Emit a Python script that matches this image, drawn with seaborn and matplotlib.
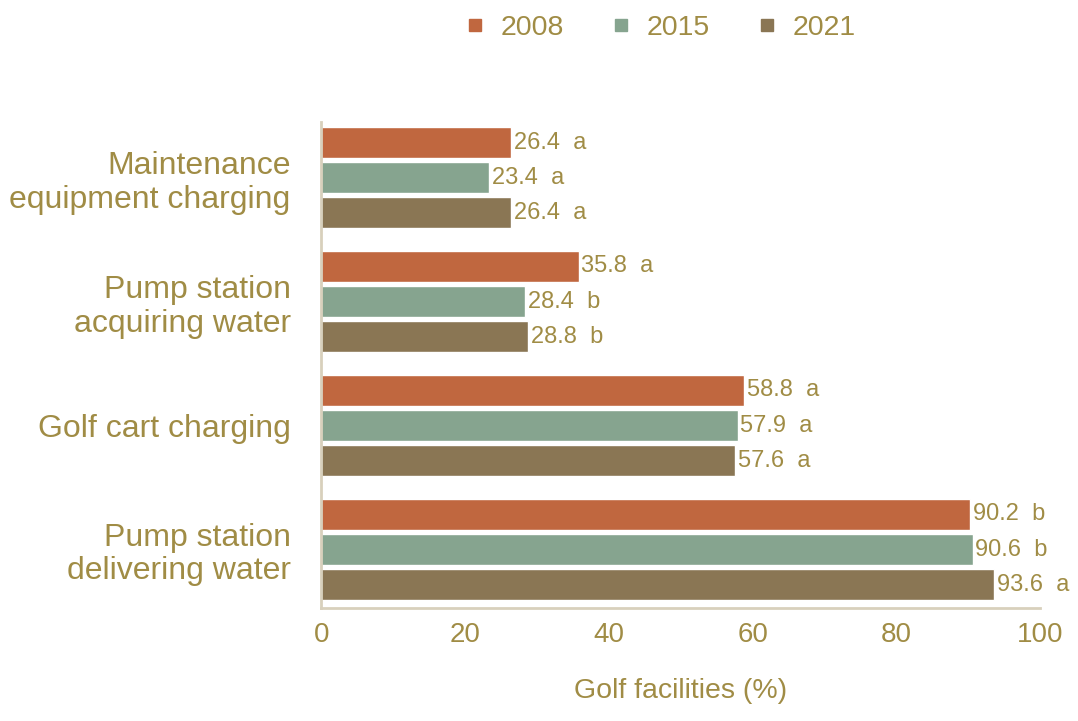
import pandas as pd
import matplotlib.pyplot as plt
import seaborn as sns

# Data
categories = ["Maintenance\nequipment charging", "Pump station\nacquiring water",
              "Golf cart charging", "Pump station\ndelivering water"]
years = ["2008", "2015", "2021"]
values_2008 = [26.4, 35.8, 58.8, 90.2]
values_2015 = [23.4, 28.4, 57.9, 90.6]
values_2021 = [26.4, 28.8, 57.6, 93.6]
letters_2008 = ["a", "a", "a", "b"]
letters_2015 = ["a", "b", "a", "b"]
letters_2021 = ["a", "b", "a", "a"]

TEXT = "#a08c45"
colors = ["#c0673f", "#86a48f", "#8a7654"]

rows = []
for year, vals, lets in zip(years, [values_2008, values_2015, values_2021],
                            [letters_2008, letters_2015, letters_2021]):
    for cat, v, l in zip(categories, vals, lets):
        rows.append({"Category": cat, "Year": year, "Value": v, "Letter": l})
df = pd.DataFrame(rows)

sns.set_style("white")
plt.rcParams['font.family'] = ['Liberation Sans', 'DejaVu Sans']

fig = plt.figure(figsize=(10.78, 7.21), dpi=100)
ax = fig.add_axes([0.298, 0.157, 0.667, 0.674])

sns.barplot(data=df, y="Category", x="Value", hue="Year", order=categories,
            hue_order=years, palette=colors, orient="h", width=0.85, gap=0.12,
            saturation=1, ax=ax, legend=False)

for cont, lets in zip(ax.containers, [letters_2008, letters_2015, letters_2021]):
    labels = [f"{b.get_width():.1f}  {l}" for b, l in zip(cont, lets)]
    ax.bar_label(cont, labels=labels, padding=2, color=TEXT, fontsize=17)

ax.set_xlim(0, 100)
ax.set_ylim(3.47, -0.45)
ax.set_xticks([0, 20, 40, 60, 80, 100])
ax.set_ylabel("")
ax.set_xlabel("Golf facilities (%)", color=TEXT, fontsize=20.5, labelpad=22)
ax.tick_params(axis="x", direction="in", length=8, width=1.5, color="#d8d0bc",
               labelcolor=TEXT, labelsize=20, pad=10)
ax.tick_params(axis="y", length=0, labelcolor=TEXT, labelsize=23, pad=22)
for lbl in ax.get_yticklabels():
    lbl.set_linespacing(1.15)
for side in ["top", "right"]:
    ax.spines[side].set_visible(False)
for side in ["left", "bottom"]:
    ax.spines[side].set_color("#d8d0bc")
    ax.spines[side].set_linewidth(2)

handles = [plt.Line2D([], [], marker="s", linestyle="", markersize=8,
                      color=c) for c in colors]
fig.legend(handles, years, loc="upper center", bbox_to_anchor=(0.613, 1.015),
           ncol=3, frameon=False, fontsize=20.5, labelcolor=TEXT,
           handlelength=0.6, handletextpad=0.6, columnspacing=1.7)

fig.savefig("out.png", dpi=100)
